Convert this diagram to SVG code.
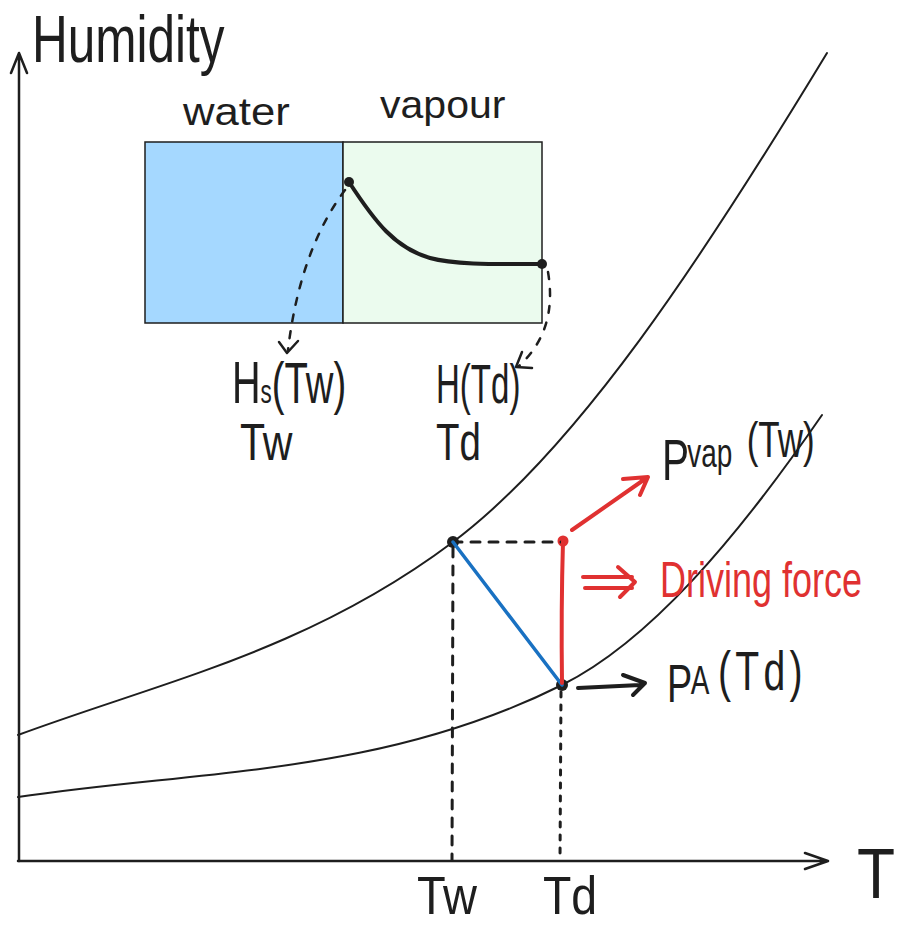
<svg xmlns="http://www.w3.org/2000/svg" width="897" height="928" viewBox="0 0 897 928">
<style>
text{font-family:"Liberation Sans","Open Sans",sans-serif;fill:#1e1e1e}
.red{fill:#e03131}
.ln{fill:none;stroke:#1e1e1e;stroke-linecap:round;stroke-linejoin:round}
.axis{stroke-width:2.5}
.curve{stroke-width:2}
.dash{stroke-width:3;stroke-dasharray:9 9}
.dot2{stroke-width:3;stroke-dasharray:5 8}
.idash{stroke-width:2.5;stroke-dasharray:7 10}
.rd{fill:none;stroke:#e03131;stroke-linecap:round;stroke-linejoin:round;stroke-width:4}
</style>
<rect width="897" height="928" fill="#ffffff"/>

<g id="axes">
  <path class="ln axis" d="M19 861 L19 54 M11 73 L19 53 L27 73"/>
  <path class="ln axis" d="M18 861 L827 861 M805 853 L828 861 L805 869"/>
  <text transform="translate(32,62) scale(0.75,1)" font-size="66">Humidity</text>
  <text transform="translate(857,898) scale(0.89,1)" font-size="70">T</text>
</g>

<g id="curves">
  <path id="upper-curve" class="ln curve" stroke="#333" d="M18 735 C163 681.3 308 650.8 453 542 C577.7 448.5 702.3 258.7 827 53"/>
  <path id="lower-curve" class="ln curve" d="M18 797 C199.3 769.8 380.7 775.7 562 685 C648.7 641.7 735.3 540.7 822 415"/>
</g>

<g id="inset">
  <rect x="145" y="142" width="198" height="181" fill="#a5d8ff" stroke="#1e1e1e" stroke-width="1.5"/>
  <rect x="343" y="142" width="199" height="181" fill="#ebfbee" stroke="#1e1e1e" stroke-width="1.5"/>
  <text transform="translate(183,125) scale(1.15,1)" font-size="38">water</text>
  <text transform="translate(380,118) scale(1.08,1)" font-size="38">vapour</text>
  <path class="ln" stroke-width="4" d="M349 182 C375 222 395 248 430 258 C455 265 500 264 542 264"/>
  <circle cx="349" cy="182" r="5" fill="#1e1e1e"/>
  <circle cx="542" cy="264" r="5" fill="#1e1e1e"/>
</g>

<g id="label-hs">
  <text transform="translate(232,403) scale(0.66,1)" font-size="60">H<tspan font-size="34">s</tspan><tspan font-size="58">(Tw)</tspan></text>
  <text transform="translate(240,460) scale(0.79,1)" font-size="52">Tw</text>
</g>
<g id="label-h">
  <text transform="translate(436,403) scale(0.59,1)" font-size="56">H(Td)</text>
  <text transform="translate(436,460) scale(0.74,1)" font-size="52">Td</text>
</g>

<g id="point-tw">
  <circle cx="453" cy="542" r="6" fill="#1e1e1e"/>
</g>
<g id="point-td">
  <circle cx="562" cy="685" r="6" fill="#1e1e1e"/>
</g>
<g id="point-top">
  <circle cx="563" cy="541" r="5.5" fill="#e03131"/>
</g>

<g id="label-pvap">
  <text transform="translate(662,0) scale(0.7,1)" font-size="58"><tspan x="0" y="480">P</tspan><tspan x="36" y="467" font-size="40">vap</tspan><tspan x="121" y="457" font-size="50">(Tw)</tspan></text>
</g>
<g id="label-driving">
  <text class="red" transform="translate(660,597) scale(0.72,1)" font-size="50">Driving force</text>
</g>
<g id="label-pa">
  <text transform="translate(667,0) scale(0.7,1)" font-size="54"><tspan x="0" y="702">P</tspan><tspan x="34" y="694" font-size="40">A</tspan><tspan x="73" y="690" font-size="56" letter-spacing="6">(Td)</tspan></text>
</g>

<g id="label-tw-axis">
  <text transform="translate(417,914) scale(0.87,1)" font-size="54">Tw</text>
</g>
<g id="label-td-axis">
  <text transform="translate(543,914) scale(0.86,1)" font-size="54">Td</text>
</g>

<g id="connectors">
  <path class="ln idash" d="M345 190 Q300 250 288 350"/>
  <path class="ln" stroke-width="2.5" d="M279 342 L287 353 L298 341"/>
  <path class="ln idash" d="M548 272 Q558 330 519 366"/>
  <path class="ln" stroke-width="2.5" d="M522 352 L516 367 L532 368"/>
  <path class="ln dash" d="M453 542 L563 542"/>
  <path class="ln dash" d="M453 548 L452 860"/>
  <path class="ln dot2" d="M561 692 L560 860"/>
  <path fill="none" stroke="#1971c2" stroke-width="3.5" stroke-linecap="round" d="M453 542 L562 685"/>
  <path class="rd" stroke-width="5.5" d="M563 541 Q561 610 562 683"/>
  <path class="rd" d="M572 530 L645 479 M623 479 L648 477 L640 495"/>
  <path class="rd" d="M583 577 L632 577 M585 588 L632 588 M618 567 L635 582 L620 597"/>
  <path class="ln" stroke-width="4" d="M578 688 L640 685 M623 675 L645 683 L633 695"/>
</g>
</svg>
